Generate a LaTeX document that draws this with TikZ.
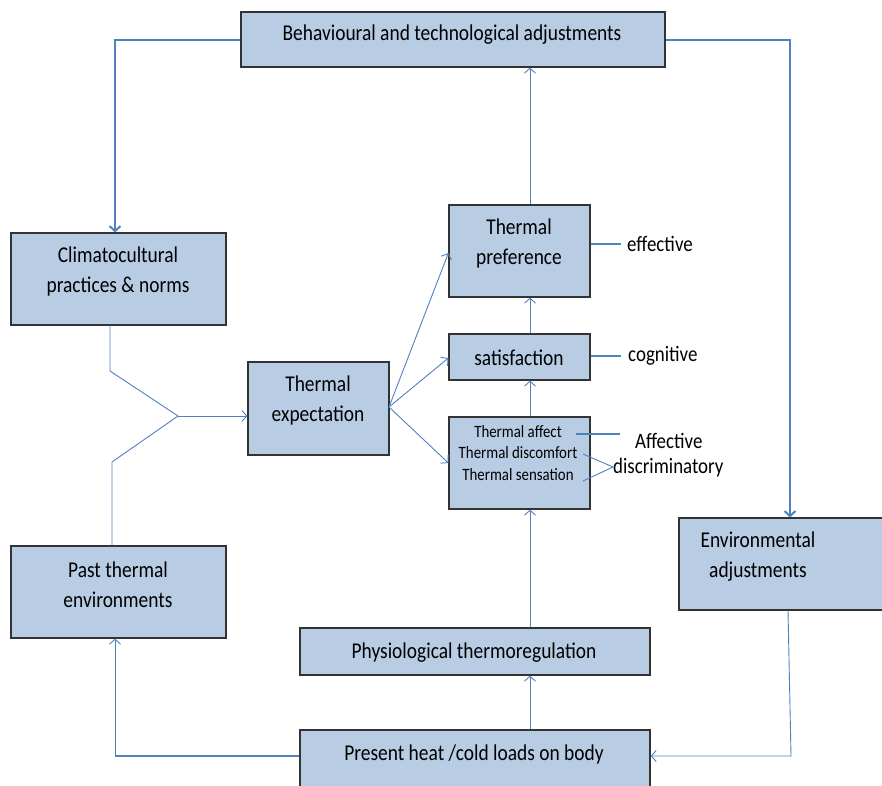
\documentclass[tikz,border=0pt]{standalone}
\usepackage{fontspec}
\setmainfont{Carlito}[FakeStretch=0.86]
\usetikzlibrary{arrows.meta}
\definecolor{boxfill}{RGB}{184,204,228}
\definecolor{linkblue}{RGB}{79,129,189}
\begin{document}
\begin{tikzpicture}[x=1pt,y=-1pt,
  box/.style={draw=black!80, line width=1.2pt, fill=boxfill, rectangle, inner sep=0pt},
  txt/.style={align=center, inner sep=0pt, yshift=-2pt, font=\fontsize{22.6}{30}\selectfont},
  smalltxt/.style={align=center, inner sep=0pt, font=\fontsize{17.3}{21.5}\selectfont},
  note/.style={anchor=west, inner sep=0pt, font=\fontsize{22}{27}\selectfont},
  tip/.style={-{Straight Barb[length=5pt,width=11pt]}},
  thin/.style={draw=linkblue, line width=0.9pt},
  thick/.style={draw=linkblue, line width=2pt},
  mid/.style={draw=linkblue, line width=1.4pt}]
\useasboundingbox (0,0) rectangle (882,785);

% boxes
\node[box, minimum width=424, minimum height=55] (beh) at (453,39.5) {};
\node[box, minimum width=215, minimum height=92] (clim) at (118.5,279) {};
\node[box, minimum width=215, minimum height=92] (past) at (118.5,592) {};
\node[box, minimum width=141, minimum height=93] (exp) at (318.5,408.5) {};
\node[box, minimum width=141, minimum height=92] (pref) at (519.5,251) {};
\node[box, minimum width=141, minimum height=46] (sat) at (519.5,357) {};
\node[box, minimum width=141, minimum height=92] (aff) at (519.5,463) {};
\node[box, minimum width=350, minimum height=47] (phys) at (475,651.5) {};
\node[box, minimum width=350, minimum height=70] (pres) at (475,765) {};
\node[box, minimum width=220, minimum height=92] (env) at (789,564) {};

% box texts
\node[txt] (behT) at (452,33) {Behavioural and technological adjustments};
\node[txt] (climT) at (118,269) {Climatocultural\\practices \& norms};
\node[txt] (pastT) at (118,583) {Past thermal\\environments};
\node[txt] (expT) at (318,398) {Thermal\\expectation};
\node[txt] (prefT) at (519,241) {Thermal\\preference};
\node[txt] (satT) at (519,356) {satisfaction};
\node[smalltxt] (affT) at (518,453) {Thermal affect\\Thermal discomfort\\Thermal sensation};
\node[txt] (physT) at (474,651) {Physiological thermoregulation};
\node[txt] (presT) at (474,752) {Present heat /cold loads on body};
\node[txt] (envT) at (758,555) {Environmental\\adjustments};

% side notes
\node[note] (effN) at (627,244) {effective};
\node[note] (cogN) at (628,356) {cognitive};
\node[note] (affN) at (635,441) {Affective};
\node[note] (disN) at (613,468) {discriminatory};

\coordinate (affEnd) at (576,434);
\coordinate (discEnd) at (583,454);
\coordinate (sensEnd) at (583,481);
\coordinate (vtip) at (613,467);
\draw[thick] (pref.east |- effN) -- ++(30,0);
\draw[thick] (sat.east |- cogN) -- ++(30,0);
\draw[thick] (affEnd) -- (620,434);
\draw[thin] (discEnd) -- (vtip) -- (sensEnd);

% outer feedback loop
\draw[thick, tip] (beh.west) -- (115,39.5) -- (clim.north -| 115,0);
\draw[thick, tip] (beh.east) -- (790,39.5) -- (env.north -| 790,0);
\draw[thin, tip] (env.south -| 788,0) -- (791,756) -- (pres.east |- 0,756);
\draw[mid] (pres.west |- 0,756) -- (115,756);
\draw[thin, tip] (115,756) -- (past.south -| 115,0);

% vertical chain
\draw[thin, tip] (pres.north -| 530,0) -- (phys.south -| 530,0);
\draw[thin, tip] (phys.north -| 530,0) -- (aff.south -| 530,0);
\draw[thin, tip] (aff.north -| 530,0) -- (sat.south -| 530,0);
\draw[thin, tip] (sat.north -| 530,0) -- (pref.south -| 530,0);
\draw[thin, tip] (pref.north -| 530,0) -- (beh.south -| 530,0);

% merging of climate and past experience into expectation
\coordinate (join) at (178,416);
\draw[thin] (clim.south -| 110,0) -- (110,371) -- (join);
\draw[thin] (past.north -| 112,0) -- (112,462) -- (join);
\draw[thin, tip] (join) -- (exp.west |- join);

% expectation feeding the responses
\coordinate (expOut) at (389,407);
\draw[thin, tip] (expOut) -- (pref.west |- 0,253);
\draw[thin, tip] (expOut) -- (sat.west |- 0,358);
\draw[thin, tip] (expOut) -- (aff.west |- 0,463);
\end{tikzpicture}
\end{document}
